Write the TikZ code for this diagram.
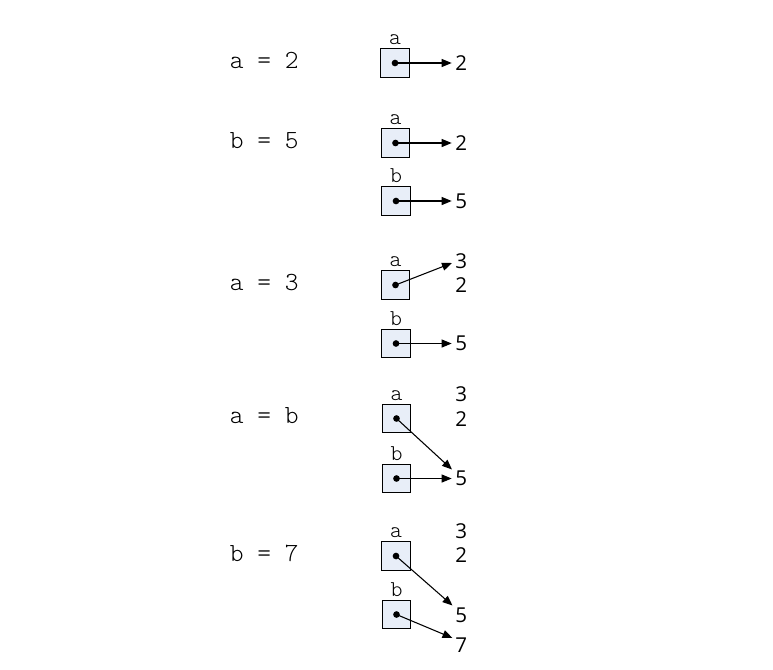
\documentclass[tikz,border=0pt]{standalone}
\usepackage{fontspec}
\newfontfamily\numfont{Open Sans}
\newfontfamily\codefont{Latin Modern Mono Light}
\usetikzlibrary{arrows.meta}
\definecolor{boxfill}{RGB}{232,238,248}
\tikzset{
  cell/.style={draw=black, line width=0.75pt, fill=boxfill, minimum size=21.5pt, inner sep=0pt},
  lbl/.style={font=\codefont\fontsize{17}{19}\selectfont, inner sep=0pt, anchor=base},
  code/.style={font=\codefont\fontsize{19.6}{22}\selectfont, inner sep=0pt, anchor=base west},
  num/.style={font=\numfont\fontsize{15.4}{18}\selectfont, inner sep=0pt, anchor=west},
  ptr/.style={line width=0.8pt, -{Triangle[length=7.5pt,width=6pt]}},
  dotc/.style={fill=black, circle, inner sep=0pt, minimum size=5pt}
}
\begin{document}
\begin{tikzpicture}[x=0.75pt,y=-0.75pt]
\useasboundingbox (0,0) rectangle (773,669);
% ---------- code lines
\node[code] (c1) at (229.6,68) {a = 2};
\node[code] (c2) at (229.6,148) {b = 5};
\node[code] (c3) at (229.6,290) {a = 3};
\node[code] (c4) at (229.6,423.5) {a = b};
\node[code] (c5) at (229.6,561) {b = 7};
% ---------- row 1
\node[cell] (a1) at (395,63) {};
\node[lbl] (la1) at ([yshift=2.5pt]a1.north) {a};
\node[num] (n1two) at (455,63) {2};
% ---------- row 2
\node[cell] (a2) at (395.5,143) {};
\node[lbl] (la2) at ([yshift=2.5pt]a2.north) {a};
\node[num] (n2two) at (455,143) {2};
\node[cell] (b2) at (396,201) {};
\node[lbl] (lb2) at ([yshift=2.5pt]b2.north) {b};
\node[num] (n2five) at (455,201.5) {5};
% ---------- row 3
\node[cell] (a3) at (395.5,285) {};
\node[lbl] (la3) at ([yshift=2.5pt]a3.north) {a};
\node[num] (n3three) at (455,261) {3};
\node[num] (n3two) at (455,285) {2};
\node[cell] (b3) at (396,343.5) {};
\node[lbl] (lb3) at ([yshift=2.5pt]b3.north) {b};
\node[num] (n3five) at (455,343.5) {5};
% ---------- row 4
\node[cell] (a4) at (396.5,418.5) {};
\node[lbl] (la4) at ([yshift=2.5pt]a4.north) {a};
\node[num] (n4three) at (455,394) {3};
\node[num] (n4two) at (455,419) {2};
\node[cell] (b4) at (396.5,478.5) {};
\node[lbl] (lb4) at ([yshift=2.5pt]b4.north) {b};
\node[num] (n4five) at (455,478.5) {5};
% ---------- row 5
\node[cell] (a5) at (396,556) {};
\node[lbl] (la5) at ([yshift=2.5pt]a5.north) {a};
\node[num] (n5three) at (455,531) {3};
\node[num] (n5two) at (455,555.5) {2};
\node[cell] (b5) at (396.5,614.5) {};
\node[lbl] (lb5) at ([yshift=2.5pt]b5.north) {b};
\node[num] (n5five) at (455,615) {5};
\node[num] (n5seven) at (455,645) {7};
% ---------- tips of slanted pointers
\coordinate (t3) at (452,263);
\coordinate (t4a) at (452,469.5);
\coordinate (t5a) at (452.5,605.5);
\coordinate (t5b) at (452.5,638);
% ---------- dots
\foreach \b in {a1,a2,b2,a3,b3,a4,b4,a5,b5}{\node[dotc] at (\b.center) {};}
% ---------- pointers
\draw[ptr] (a1.center) -- ([xshift=-2.5pt]n1two.west |- a1.center);
\draw[ptr] (a2.center) -- ([xshift=-2.5pt]n2two.west |- a2.center);
\draw[ptr] (b2.center) -- ([xshift=-2.5pt]n2five.west |- b2.center);
\draw[ptr] (a3.center) -- (t3);
\draw[ptr] (b3.center) -- ([xshift=-2.5pt]n3five.west |- b3.center);
\draw[ptr] (a4.center) -- (t4a);
\draw[ptr] (b4.center) -- ([xshift=-2.5pt]n4five.west |- b4.center);
\draw[ptr] (a5.center) -- (t5a);
\draw[ptr] (b5.center) -- (t5b);
\end{tikzpicture}
\end{document}
